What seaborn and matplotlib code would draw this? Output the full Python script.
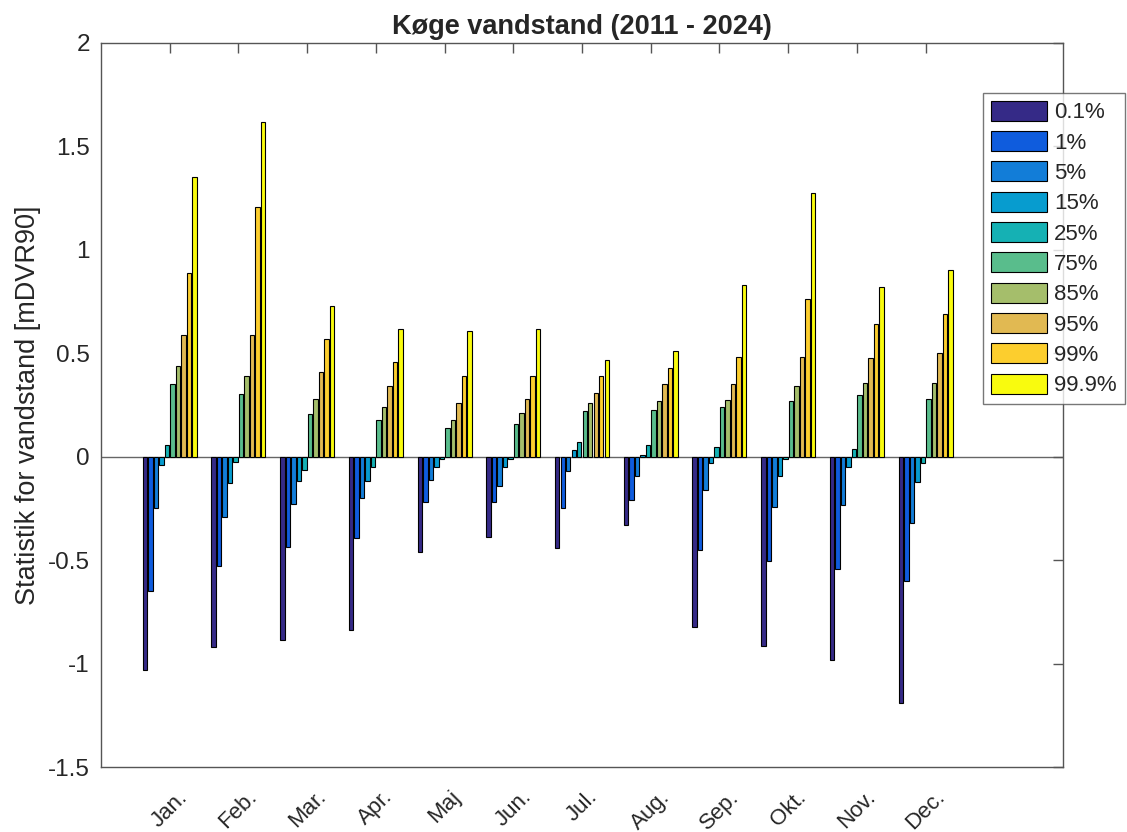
import numpy as np
import pandas as pd
import matplotlib
matplotlib.use("Agg")
import matplotlib.pyplot as plt
import seaborn as sns

months = ["Jan.", "Feb.", "Mar.", "Apr.", "Maj", "Jun.", "Jul.", "Aug.", "Sep.", "Okt.", "Nov.", "Dec."]
percentiles = ["0.1%", "1%", "5%", "15%", "25%", "75%", "85%", "95%", "99%", "99.9%"]

p0_1 = [-1.03, -0.92, -0.886, -0.838, -0.461, -0.389, -0.442, -0.331, -0.822, -0.915, -0.985, -1.192]
p1 = [-0.649, -0.531, -0.439, -0.391, -0.220, -0.220, -0.249, -0.211, -0.452, -0.503, -0.541, -0.603]
p5 = [-0.249, -0.290, -0.231, -0.199, -0.111, -0.141, -0.071, -0.092, -0.163, -0.242, -0.234, -0.323]
p15 = [-0.041, -0.129, -0.120, -0.120, -0.050, -0.051, 0.031, 0.006, -0.031, -0.093, -0.052, -0.122]
p25 = [0.057, -0.028, -0.063, -0.050, -0.010, -0.011, 0.071, 0.058, 0.048, -0.012, 0.038, -0.031]
p75 = [0.349, 0.301, 0.208, 0.179, 0.140, 0.159, 0.219, 0.227, 0.240, 0.268, 0.298, 0.279]
p85 = [0.439, 0.391, 0.280, 0.242, 0.178, 0.209, 0.257, 0.270, 0.275, 0.341, 0.357, 0.357]
p95 = [0.589, 0.589, 0.408, 0.343, 0.257, 0.278, 0.307, 0.349, 0.349, 0.479, 0.478, 0.499]
p99 = [0.889, 1.208, 0.568, 0.459, 0.389, 0.389, 0.389, 0.429, 0.479, 0.760, 0.639, 0.689]
p99_9 = [1.352, 1.618, 0.727, 0.618, 0.609, 0.617, 0.468, 0.509, 0.830, 1.272, 0.819, 0.900]

colors = ["#352A87", "#0F5CDD", "#127DD8", "#079CCF", "#15B1B4",
          "#59BD8C", "#A5BE6B", "#E1B952", "#FCCE2E", "#F9FB0E"]

series = [p0_1, p1, p5, p15, p25, p75, p85, p95, p99, p99_9]
rows = []
for pct, vals in zip(percentiles, series):
    for m, v in zip(months, vals):
        rows.append({"month": m, "pct": pct, "value": v})
df = pd.DataFrame(rows)

sns.set_theme(style="white")
plt.rcParams["font.family"] = ["Liberation Sans", "DejaVu Sans"]

fig = plt.figure(figsize=(11.27, 8.32), dpi=100)
ax = fig.add_axes([101 / 1127, 65 / 832, 962 / 1127, (767 - 42.7) / 832])

sns.barplot(data=df, x="month", y="value", hue="pct", order=months, hue_order=percentiles,
            palette=dict(zip(percentiles, colors)), width=0.8, gap=0.2,
            edgecolor="black", linewidth=0.8, ax=ax, errorbar=None, saturation=1)

ax.set_xlim(-1, 13)
ax.set_ylim(-1.5, 2)
ax.set_yticks([-1.5, -1, -0.5, 0, 0.5, 1, 1.5, 2])
ax.set_yticklabels(["-1.5", "-1", "-0.5", "0", "0.5", "1", "1.5", "2"])
ax.axhline(0, color="#666666", linewidth=1.0, zorder=0.5)

ax.set_xlabel("")
ax.set_ylabel("Statistik for vandstand [mDVR90]", fontsize=19.5, color="#262626", labelpad=5)
ax.set_title("Køge vandstand (2011 - 2024)", fontsize=19.5, fontweight="bold", pad=6)

for s in ax.spines.values():
    s.set_color("#555555")
    s.set_linewidth(1.0)
ax.tick_params(axis="both", direction="in", length=7, width=1.0, color="#555555",
               top=True, right=True, labelcolor="#262626")
ax.tick_params(axis="y", labelsize=17.5, pad=8)
ax.tick_params(axis="x", labelsize=16, pad=14)
for lab in ax.get_xticklabels():
    lab.set_rotation(45)
    lab.set_ha("center")

h, l = ax.get_legend_handles_labels()
ax.get_legend().remove()
leg = fig.legend(h, l, loc="upper left", bbox_to_anchor=(983 / 1127, 1 - 93 / 832),
                 bbox_transform=fig.transFigure, borderaxespad=0, fontsize=16,
                 frameon=True, fancybox=False, edgecolor="#555555",
                 handlelength=2.55, handleheight=1.0, labelspacing=0.35,
                 handletextpad=0.3, borderpad=0.35)
leg.get_frame().set_linewidth(1.0)

fig.savefig("out.png", dpi=100, facecolor="white")
